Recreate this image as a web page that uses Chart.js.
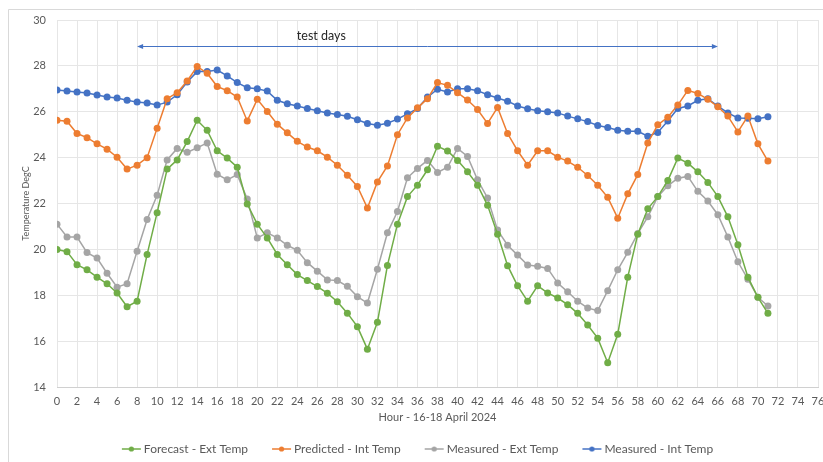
<!DOCTYPE html>
<html lang="en">
<head>
    <meta charset="UTF-8">
    <title>Temperature - test days</title>
    <script src="https://cdn.jsdelivr.net/npm/chart.js"></script>
    <style>
        html, body { margin: 0; padding: 0; background: white; overflow: hidden; }
        .wrap { width: 823px; height: 462px; }
    </style>
</head>
<body>
    <div class="wrap"><canvas id="chart" width="823" height="462"></canvas></div>

    <script>
        // hours 0..71, 16-18 April 2024
        const hours = [0,1,2,3,4,5,6,7,8,9,10,11,12,13,14,15,16,17,18,19,20,21,22,23,24,25,26,27,28,29,30,31,32,33,34,35,
            36,37,38,39,40,41,42,43,44,45,46,47,48,49,50,51,52,53,54,55,56,57,58,59,60,61,62,63,64,65,66,67,68,69,70,71];

        const forecastExt = [20.0,19.9,19.33,19.11,18.79,18.5,18.1,17.5,17.74,19.78,21.6,23.5,23.9,24.7,25.63,25.19,24.3,23.98,23.58,21.98,
            21.1,20.5,19.78,19.33,18.9,18.64,18.38,18.09,17.72,17.22,16.63,15.65,16.82,19.3,21.1,22.3,22.8,23.47,24.5,
            24.29,23.88,23.38,22.8,21.92,20.66,19.29,18.41,17.74,18.41,18.1,17.88,17.59,17.21,16.7,16.13,15.06,16.3,18.79,
            20.66,21.77,22.3,23.0,23.98,23.76,23.38,22.92,22.3,21.42,20.2,18.79,17.91,17.21];

        const predictedInt = [25.63,25.59,25.05,24.87,24.6,24.37,24.02,23.5,23.67,24.0,25.28,26.57,26.83,27.34,27.97,27.68,27.1,26.92,26.64,25.6,
            26.54,26.01,25.46,25.08,24.71,24.46,24.3,24.02,23.67,23.23,22.74,21.8,22.94,23.64,25.0,25.73,26.17,26.57,27.27,
            27.15,26.83,26.51,26.1,25.49,26.19,25.05,24.3,23.67,24.3,24.3,24.02,23.85,23.58,23.22,22.8,22.27,21.36,22.42,
            23.26,24.64,25.43,25.76,26.29,26.93,26.8,26.54,26.22,25.81,25.12,25.81,24.6,23.85];

        const measuredExt = [21.1,20.54,20.54,19.86,19.62,18.96,18.35,18.5,19.92,21.3,22.36,23.9,24.4,24.23,24.43,24.64,23.28,23.03,23.26,22.2,
            20.5,20.72,20.5,20.18,19.96,19.42,19.05,18.67,18.64,18.39,17.94,17.66,19.13,20.72,21.65,23.12,23.53,23.88,23.35,
            23.58,24.4,24.05,23.03,22.24,20.84,20.18,19.75,19.32,19.26,19.17,18.53,18.15,17.74,17.44,17.33,18.2,19.11,19.87,
            20.69,21.42,22.3,22.77,23.1,23.18,22.53,22.11,21.51,20.54,19.46,18.7,17.91,17.53];

        const measuredInt = [26.95,26.9,26.86,26.82,26.73,26.64,26.6,26.5,26.42,26.38,26.29,26.42,26.74,27.3,27.75,27.75,27.82,27.56,27.27,27.05,
            27.0,26.9,26.5,26.35,26.25,26.14,26.04,25.95,25.88,25.8,25.65,25.49,25.41,25.5,25.68,25.91,26.14,26.64,26.98,
            26.86,27.0,27.0,26.92,26.74,26.6,26.46,26.25,26.13,26.04,26.0,25.95,25.81,25.69,25.57,25.4,25.31,25.19,25.15,
            25.15,24.93,25.1,25.6,26.14,26.25,26.5,26.57,26.25,25.95,25.73,25.72,25.7,25.78];

        const seriesNames = ["Forecast - Ext Temp", "Predicted - Int Temp", "Measured - Ext Temp", "Measured - Int Temp"];
        const seriesColors = ["#70ad47", "#ed7d31", "#a5a5a5", "#4472c4"];

        // "test days" span annotation
        const testDaysFrom = 8;
        const testDaysTo = 66;
        const testDaysLevel = 28.85;
        const testDaysLabel = "test days";
        const testDaysLabelHour = 26.4;
        const testDaysLabelLevel = 29.3;

        const textColor = "#595959";
        const gridColor = "#e6e6e6";

        // small line+dot marker for the legend, with empty space on the left
        function legendMarker(color) {
            const c = document.createElement("canvas");
            c.width = 41; c.height = 8;
            const g = c.getContext("2d");
            g.strokeStyle = color; g.lineWidth = 1.5;
            g.beginPath(); g.moveTo(21, 4); g.lineTo(40, 4); g.stroke();
            g.fillStyle = color;
            g.beginPath(); g.arc(30.5, 4, 2.6, 0, Math.PI * 2); g.fill();
            return c;
        }

        function makeDataset(i, values) {
            return {
                label: seriesNames[i],
                data: hours.map((h, k) => ({ x: h, y: values[k] })),
                borderColor: seriesColors[i],
                backgroundColor: seriesColors[i],
                borderWidth: 1.5,
                pointRadius: 3.5,
                pointBorderWidth: 0,
                pointStyle: "circle",
                fill: false,
                tension: 0,
                marker: legendMarker(seriesColors[i])
            };
        }

        const frame = {
            id: "frame",
            beforeDraw(chart) {
                const ctx = chart.ctx;
                ctx.save();
                ctx.fillStyle = "white";
                ctx.fillRect(0, 0, chart.width, chart.height);
                ctx.strokeStyle = "#d9d9d9";
                ctx.lineWidth = 1;
                ctx.beginPath();
                ctx.moveTo(8.5, chart.height);
                ctx.lineTo(8.5, 9.5);
                ctx.lineTo(chart.width, 9.5);
                ctx.stroke();
                ctx.restore();
            }
        };

        const testDays = {
            id: "testDays",
            afterDatasetsDraw(chart) {
                const ctx = chart.ctx;
                const xs = chart.scales.x, ys = chart.scales.y;
                const x1 = xs.getPixelForValue(testDaysFrom);
                const x2 = xs.getPixelForValue(testDaysTo);
                const y = Math.round(ys.getPixelForValue(testDaysLevel)) + 0.5;
                ctx.save();
                ctx.strokeStyle = "#4472c4";
                ctx.fillStyle = "#4472c4";
                ctx.lineWidth = 1;
                ctx.beginPath(); ctx.moveTo(x1 + 3, y); ctx.lineTo(x2 - 3, y); ctx.stroke();
                ctx.beginPath(); ctx.moveTo(x1, y); ctx.lineTo(x1 + 6, y - 2.5); ctx.lineTo(x1 + 6, y + 2.5); ctx.closePath(); ctx.fill();
                ctx.beginPath(); ctx.moveTo(x2, y); ctx.lineTo(x2 - 6, y - 2.5); ctx.lineTo(x2 - 6, y + 2.5); ctx.closePath(); ctx.fill();
                ctx.fillStyle = "#262626";
                ctx.font = "12.5px Lato";
                ctx.textAlign = "center";
                ctx.textBaseline = "middle";
                ctx.fillText(testDaysLabel, xs.getPixelForValue(testDaysLabelHour), ys.getPixelForValue(testDaysLabelLevel));
                ctx.restore();
            }
        };

        const ctx = document.getElementById("chart").getContext("2d");
        new Chart(ctx, {
            type: "line",
            data: {
                datasets: [
                    makeDataset(0, forecastExt),
                    makeDataset(1, predictedInt),
                    makeDataset(2, measuredExt),
                    makeDataset(3, measuredInt)
                ]
            },
            options: {
                responsive: false,
                animation: false,
                layout: { padding: { top: 20, right: 5, bottom: -3, left: 0 } },
                scales: {
                    x: {
                        type: "linear",
                        min: 0,
                        max: 76,
                        ticks: { stepSize: 2, color: textColor, font: { family: "Lato", size: 11 }, padding: 8, maxRotation: 0, autoSkip: false },
                        grid: { color: gridColor, drawTicks: false },
                        border: { color: "#d0d0d0" },
                        title: { display: true, text: "Hour - 16-18 April 2024", color: textColor, font: { family: "Lato", size: 11 }, padding: { top: 0, bottom: 12 } },
                        afterFit(scale) { scale.height = 49; scale.paddingRight = 0; }
                    },
                    y: {
                        min: 14,
                        max: 30,
                        ticks: { stepSize: 2, color: textColor, font: { family: "Lato", size: 11 }, padding: 11 },
                        grid: { color: gridColor, drawTicks: false },
                        border: { display: false },
                        title: { display: true, text: "Temperature DegC", color: textColor, font: { family: "Lato", size: 9 }, padding: { top: 21, bottom: 0 } },
                        afterFit(scale) { scale.width = 57; }
                    }
                },
                plugins: {
                    legend: {
                        position: "bottom",
                        labels: {
                            usePointStyle: true,
                            pointStyleWidth: 33,
                            padding: 7,
                            color: textColor,
                            font: { family: "Lato", size: 12 },
                            generateLabels(chart) {
                                return chart.data.datasets.map((ds, i) => ({
                                    text: ds.label,
                                    pointStyle: ds.marker,
                                    fontColor: textColor,
                                    strokeStyle: ds.borderColor,
                                    fillStyle: ds.backgroundColor,
                                    lineWidth: 0,
                                    hidden: false,
                                    datasetIndex: i
                                }));
                            }
                        }
                    },
                    tooltip: { enabled: false }
                }
            },
            plugins: [frame, testDays]
        });
    </script>
</body>
</html>
